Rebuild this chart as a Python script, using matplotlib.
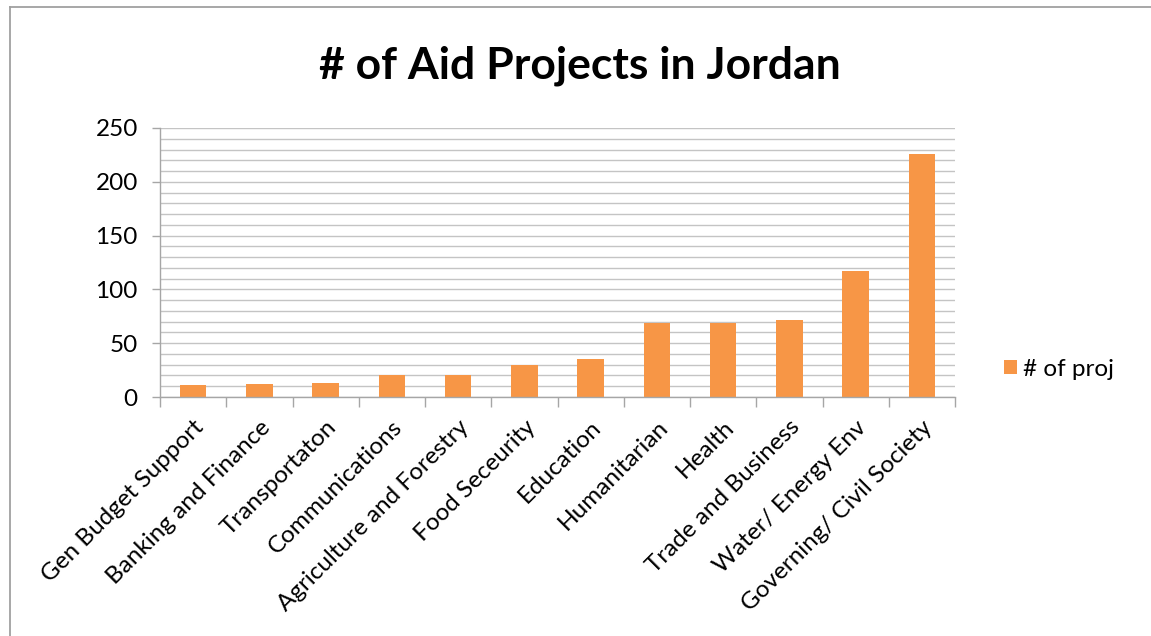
import matplotlib
matplotlib.use("Agg")
import matplotlib.pyplot as plt
from matplotlib.lines import Line2D
from matplotlib.ticker import MultipleLocator

categories = [
    "Gen Budget Support", "Banking and Finance", "Transportaton",
    "Communications", "Agriculture and Forestry", "Food Seceurity",
    "Education", "Humanitarian", "Health", "Trade and Business",
    "Water/ Energy Env", "Governing/ Civil Society",
]
num_projects = [11, 12, 13, 20, 20, 30, 35, 69, 69, 72, 117, 226]
series_name = "# of proj"
title = "# of Aid Projects in Jordan"

bar_color = "#F79646"
grid_color = "#C4C4C4"
axis_color = "#A6A6A6"

plt.rcParams["font.family"] = ["Lato", "DejaVu Sans"]

fig = plt.figure(figsize=(11.51, 6.36), dpi=100)
ax = fig.add_axes([160 / 1151, 1 - 397 / 636, 795 / 1151, 269 / 636])

x = range(len(categories))
ax.bar(x, num_projects, width=0.4, color=bar_color, label=series_name, zorder=3)

ax.set_xlim(-0.5, len(categories) - 0.5)
ax.set_ylim(0, 250)
ax.yaxis.set_major_locator(MultipleLocator(50))
ax.yaxis.set_minor_locator(MultipleLocator(10))
ax.grid(axis="y", which="both", color=grid_color, linewidth=1.0, zorder=0)

# category ticks sit between the bars; labels sit under the bar centres
ax.set_xticks([i - 0.5 for i in range(len(categories) + 1)])
ax.set_xticklabels([])
ax.set_xticks(list(x), minor=True)
ax.set_xticklabels(categories, minor=True, rotation=45, ha="right",
                   rotation_mode="anchor", fontsize=17.5)
ax.tick_params(axis="x", which="major", length=7, color=axis_color, width=1)
ax.tick_params(axis="x", which="minor", length=0, pad=14)
ax.tick_params(axis="y", which="major", length=6, color=axis_color, width=1,
               labelsize=17.5, pad=10)
ax.tick_params(axis="y", which="minor", length=0)

for side in ("top", "right"):
    ax.spines[side].set_visible(False)
for side in ("left", "bottom"):
    ax.spines[side].set_color(axis_color)
    ax.spines[side].set_linewidth(1.0)
ax.spines["bottom"].set_zorder(4)

fig.text(580 / 1151, 1 - 66 / 636, title, ha="center", va="center",
         fontsize=32, fontweight="bold")

fig.legend(loc="center left", bbox_to_anchor=(982 / 1151, 1 - 369 / 636),
           frameon=False, fontsize=17.5, handlelength=0.55, handleheight=0.55,
           handletextpad=0.25)

# outer chart frame: only its left and top edges fall inside the image
frame_kw = dict(transform=fig.transFigure, color="#A0A0A0", linewidth=1.3)
fig.add_artist(Line2D([9.5 / 1151, 9.5 / 1151], [0, 1 - 7 / 636], **frame_kw))
fig.add_artist(Line2D([9.5 / 1151, 1], [1 - 7 / 636, 1 - 7 / 636], **frame_kw))

fig.savefig("out.png", dpi=100)
